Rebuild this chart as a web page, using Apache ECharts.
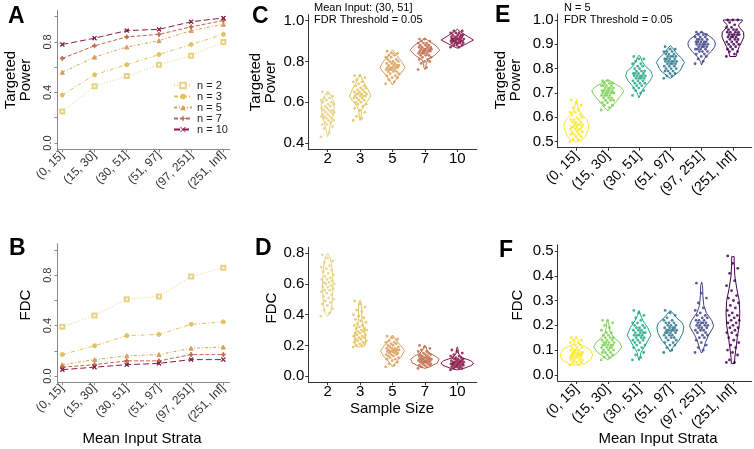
<!DOCTYPE html>
<html>
<head>
<meta charset="utf-8">
<script src="https://cdn.jsdelivr.net/npm/echarts@6/dist/echarts.min.js"></script>
<style>
  html, body { margin: 0; padding: 0; background: #fff; }
  #chart { width: 754px; height: 449px; }
</style>
</head>
<body>
<div id="chart"></div>
<script>
  // categories
  const strata = ['(0, 15]', '(15, 30]', '(30, 51]', '(51, 97]', '(97, 251]', '(251, Inf]'];
  const sampleSizes = ['2', '3', '5', '7', '10'];
  const nNames = ['n = 2', 'n = 3', 'n = 5', 'n = 7', 'n = 10'];

  // panel A: targeted power by strata, one line per n
  const powerN2 = [0.25, 0.45, 0.53, 0.62, 0.69, 0.80];
  const powerN3 = [0.38, 0.54, 0.62, 0.70, 0.78, 0.86];
  const powerN5 = [0.56, 0.68, 0.76, 0.81, 0.89, 0.94];
  const powerN7 = [0.67, 0.77, 0.84, 0.86, 0.92, 0.97];
  const powerN10 = [0.78, 0.83, 0.89, 0.90, 0.96, 0.99];

  // panel B: FDC by strata
  const fdcN2 = [0.39, 0.48, 0.61, 0.63, 0.79, 0.86];
  const fdcN3 = [0.17, 0.24, 0.32, 0.33, 0.41, 0.43];
  const fdcN5 = [0.09, 0.13, 0.16, 0.17, 0.22, 0.23];
  const fdcN7 = [0.07, 0.09, 0.12, 0.12, 0.17, 0.17];
  const fdcN10 = [0.05, 0.07, 0.09, 0.10, 0.13, 0.13];

  // panel C: targeted power per simulation, by sample size
  const powerBySize = [
    [0.43,0.45,0.47,0.48,0.49,0.49,0.50,0.50,0.51,0.51,0.52,0.52,0.52,0.53,0.53,0.53,0.54,0.54,0.54,0.55,0.55,0.55,0.56,0.56,0.56,0.57,0.57,0.58,0.58,0.59,0.59,0.60,0.60,0.61,0.61,0.62,0.62,0.63,0.64,0.65],
    [0.51,0.52,0.53,0.55,0.56,0.57,0.58,0.59,0.59,0.60,0.60,0.61,0.61,0.62,0.62,0.62,0.63,0.63,0.63,0.63,0.64,0.64,0.64,0.64,0.65,0.65,0.65,0.66,0.66,0.67,0.67,0.68,0.68,0.69,0.70,0.70,0.71,0.72,0.73,0.73],
    [0.69,0.70,0.71,0.72,0.72,0.73,0.73,0.74,0.74,0.75,0.75,0.75,0.76,0.76,0.76,0.76,0.77,0.77,0.77,0.77,0.77,0.78,0.78,0.78,0.78,0.79,0.79,0.79,0.80,0.80,0.80,0.81,0.81,0.82,0.82,0.83,0.83,0.84,0.84,0.85],
    [0.76,0.77,0.79,0.80,0.80,0.81,0.81,0.82,0.82,0.83,0.83,0.83,0.84,0.84,0.84,0.84,0.85,0.85,0.85,0.85,0.85,0.86,0.86,0.86,0.86,0.86,0.87,0.87,0.87,0.87,0.88,0.88,0.88,0.89,0.89,0.89,0.90,0.90,0.91,0.91],
    [0.87,0.87,0.88,0.88,0.88,0.89,0.89,0.89,0.89,0.89,0.90,0.90,0.90,0.90,0.90,0.90,0.90,0.91,0.91,0.91,0.91,0.91,0.91,0.91,0.92,0.92,0.92,0.92,0.92,0.93,0.93,0.93,0.93,0.94,0.94,0.94,0.95,0.95,0.89,0.91]
  ];
  // violin outlines: [value, half width] from bottom to top
  const powerBySizeViolin = [
    [[0.43,0],[0.45,0.03],[0.48,0.07],[0.50,0.11],[0.53,0.16],[0.56,0.19],[0.59,0.2],[0.61,0.17],[0.63,0.1],[0.65,0.02],[0.655,0]],
    [[0.51,0],[0.53,0.03],[0.56,0.04],[0.58,0.1],[0.61,0.25],[0.63,0.33],[0.66,0.25],[0.69,0.14],[0.72,0.05],[0.735,0]],
    [[0.685,0],[0.70,0.06],[0.73,0.2],[0.77,0.39],[0.80,0.28],[0.83,0.12],[0.85,0.03],[0.856,0]],
    [[0.76,0],[0.77,0.03],[0.79,0.04],[0.81,0.1],[0.83,0.3],[0.855,0.46],[0.88,0.32],[0.90,0.12],[0.914,0]],
    [[0.865,0],[0.88,0.2],[0.905,0.5],[0.93,0.25],[0.95,0.06],[0.958,0]]
  ];

  // panel D: FDC per simulation, by sample size
  const fdcBySize = [
    [0.39,0.41,0.43,0.44,0.46,0.47,0.48,0.49,0.50,0.51,0.52,0.53,0.54,0.55,0.56,0.56,0.57,0.58,0.58,0.59,0.60,0.60,0.61,0.61,0.62,0.63,0.63,0.64,0.65,0.66,0.67,0.68,0.69,0.70,0.71,0.72,0.74,0.75,0.77,0.79],
    [0.19,0.20,0.20,0.21,0.21,0.22,0.22,0.23,0.23,0.24,0.24,0.25,0.25,0.26,0.26,0.27,0.27,0.28,0.28,0.29,0.29,0.30,0.30,0.31,0.31,0.32,0.33,0.33,0.34,0.35,0.36,0.37,0.38,0.39,0.40,0.42,0.43,0.45,0.47,0.49],
    [0.06,0.07,0.08,0.09,0.10,0.11,0.11,0.12,0.12,0.13,0.13,0.14,0.14,0.14,0.15,0.15,0.15,0.16,0.16,0.16,0.16,0.17,0.17,0.17,0.17,0.18,0.18,0.18,0.19,0.19,0.20,0.20,0.21,0.21,0.22,0.22,0.23,0.24,0.25,0.26],
    [0.05,0.06,0.06,0.07,0.07,0.07,0.08,0.08,0.08,0.09,0.09,0.09,0.09,0.10,0.10,0.10,0.10,0.10,0.11,0.11,0.11,0.11,0.12,0.12,0.12,0.12,0.13,0.13,0.13,0.14,0.14,0.14,0.15,0.15,0.16,0.16,0.17,0.18,0.19,0.20],
    [0.04,0.05,0.05,0.05,0.06,0.06,0.06,0.06,0.07,0.07,0.07,0.07,0.07,0.08,0.08,0.08,0.08,0.08,0.08,0.09,0.09,0.09,0.09,0.09,0.10,0.10,0.10,0.10,0.11,0.11,0.11,0.12,0.12,0.12,0.13,0.13,0.14,0.15,0.16,0.17]
  ];
  const fdcBySizeViolin = [
    [[0.39,0],[0.41,0.08],[0.45,0.12],[0.52,0.15],[0.6,0.16],[0.68,0.14],[0.74,0.11],[0.78,0.06],[0.80,0]],
    [[0.19,0.08],[0.2,0.15],[0.24,0.17],[0.28,0.15],[0.32,0.1],[0.36,0.06],[0.40,0.05],[0.44,0.05],[0.48,0.03],[0.495,0]],
    [[0.06,0],[0.09,0.1],[0.13,0.28],[0.165,0.37],[0.2,0.25],[0.23,0.12],[0.26,0.03],[0.267,0]],
    [[0.05,0],[0.06,0.15],[0.085,0.38],[0.11,0.44],[0.13,0.32],[0.15,0.15],[0.17,0.06],[0.19,0.04],[0.20,0]],
    [[0.04,0],[0.05,0.2],[0.07,0.45],[0.085,0.5],[0.1,0.42],[0.12,0.15],[0.14,0.05],[0.16,0.03],[0.18,0.02],[0.19,0]]
  ];

  // panel E: targeted power per simulation, by strata (N = 5)
  const powerByStrata = [
    [0.50,0.51,0.51,0.52,0.52,0.53,0.53,0.53,0.54,0.54,0.54,0.55,0.55,0.55,0.55,0.56,0.56,0.56,0.56,0.57,0.57,0.57,0.57,0.58,0.58,0.58,0.59,0.59,0.59,0.60,0.60,0.61,0.61,0.62,0.62,0.63,0.64,0.65,0.66,0.67],
    [0.63,0.64,0.65,0.65,0.66,0.66,0.67,0.67,0.67,0.68,0.68,0.68,0.69,0.69,0.69,0.69,0.70,0.70,0.70,0.70,0.70,0.70,0.71,0.71,0.71,0.71,0.71,0.72,0.72,0.72,0.72,0.73,0.73,0.73,0.73,0.74,0.74,0.74,0.75,0.75],
    [0.69,0.70,0.71,0.71,0.72,0.72,0.73,0.73,0.74,0.74,0.74,0.75,0.75,0.75,0.76,0.76,0.76,0.76,0.77,0.77,0.77,0.77,0.77,0.78,0.78,0.78,0.78,0.79,0.79,0.79,0.80,0.80,0.81,0.81,0.82,0.82,0.83,0.84,0.84,0.85],
    [0.76,0.77,0.77,0.78,0.78,0.79,0.79,0.79,0.80,0.80,0.80,0.81,0.81,0.81,0.82,0.82,0.82,0.82,0.83,0.83,0.83,0.83,0.83,0.84,0.84,0.84,0.84,0.85,0.85,0.85,0.85,0.86,0.86,0.86,0.87,0.87,0.87,0.88,0.88,0.89],
    [0.82,0.83,0.84,0.85,0.85,0.86,0.86,0.87,0.87,0.87,0.88,0.88,0.88,0.88,0.89,0.89,0.89,0.89,0.90,0.90,0.90,0.90,0.90,0.91,0.91,0.91,0.91,0.91,0.92,0.92,0.92,0.92,0.93,0.93,0.93,0.94,0.94,0.94,0.95,0.95],
    [0.85,0.86,0.87,0.87,0.88,0.88,0.89,0.89,0.90,0.90,0.90,0.91,0.91,0.91,0.92,0.92,0.92,0.93,0.93,0.93,0.93,0.94,0.94,0.94,0.94,0.94,0.95,0.95,0.95,0.95,0.96,0.96,0.96,0.97,0.97,0.98,0.99,1.00,1.00,1.00]
  ];
  const powerByStrataViolin = [
    [[0.50,0],[0.505,0.15],[0.52,0.28],[0.55,0.38],[0.57,0.4],[0.59,0.33],[0.61,0.18],[0.63,0.08],[0.65,0.04],[0.675,0]],
    [[0.626,0],[0.64,0.1],[0.67,0.3],[0.70,0.48],[0.71,0.51],[0.725,0.4],[0.74,0.2],[0.75,0.07],[0.755,0]],
    [[0.68,0],[0.70,0.06],[0.72,0.15],[0.75,0.35],[0.77,0.43],[0.79,0.38],[0.81,0.2],[0.83,0.1],[0.85,0.04],[0.854,0]],
    [[0.76,0],[0.77,0.1],[0.79,0.3],[0.80,0.35],[0.815,0.4],[0.825,0.45],[0.84,0.38],[0.86,0.22],[0.88,0.1],[0.895,0]],
    [[0.815,0],[0.83,0.04],[0.85,0.14],[0.87,0.3],[0.89,0.42],[0.905,0.44],[0.92,0.38],[0.94,0.18],[0.95,0]],
    [[0.85,0.1],[0.87,0.14],[0.89,0.2],[0.91,0.28],[0.93,0.35],[0.95,0.34],[0.97,0.2],[0.98,0.18],[0.995,0.3],[1.0,0.3]]
  ];

  // panel F: FDC per simulation, by strata
  const fdcByStrata = [
    [0.04,0.04,0.05,0.05,0.05,0.06,0.06,0.06,0.06,0.07,0.07,0.07,0.07,0.07,0.08,0.08,0.08,0.08,0.08,0.08,0.09,0.09,0.09,0.09,0.09,0.10,0.10,0.10,0.10,0.11,0.11,0.11,0.12,0.12,0.13,0.13,0.14,0.14,0.15,0.15],
    [0.06,0.07,0.07,0.08,0.08,0.09,0.09,0.09,0.10,0.10,0.10,0.11,0.11,0.11,0.11,0.12,0.12,0.12,0.12,0.12,0.13,0.13,0.13,0.13,0.14,0.14,0.14,0.15,0.15,0.15,0.16,0.16,0.17,0.17,0.18,0.19,0.20,0.21,0.22,0.22],
    [0.06,0.07,0.08,0.09,0.10,0.11,0.11,0.12,0.12,0.13,0.13,0.14,0.14,0.14,0.15,0.15,0.15,0.16,0.16,0.16,0.16,0.17,0.17,0.17,0.17,0.18,0.18,0.18,0.19,0.19,0.19,0.20,0.20,0.21,0.21,0.22,0.23,0.24,0.25,0.26],
    [0.09,0.10,0.11,0.12,0.12,0.13,0.13,0.14,0.14,0.15,0.15,0.15,0.16,0.16,0.16,0.17,0.17,0.17,0.17,0.18,0.18,0.18,0.18,0.18,0.19,0.19,0.19,0.19,0.20,0.20,0.20,0.21,0.21,0.21,0.22,0.22,0.23,0.24,0.25,0.26],
    [0.09,0.10,0.11,0.12,0.13,0.14,0.15,0.15,0.16,0.16,0.17,0.17,0.18,0.18,0.18,0.19,0.19,0.19,0.20,0.20,0.20,0.20,0.21,0.21,0.21,0.21,0.22,0.22,0.22,0.23,0.23,0.24,0.24,0.25,0.26,0.27,0.29,0.31,0.33,0.37],
    [0.05,0.05,0.06,0.08,0.09,0.10,0.11,0.12,0.13,0.14,0.15,0.16,0.17,0.17,0.18,0.19,0.19,0.20,0.21,0.21,0.22,0.22,0.23,0.24,0.24,0.25,0.26,0.27,0.28,0.29,0.30,0.31,0.32,0.34,0.36,0.38,0.41,0.43,0.45,0.48]
  ];
  const fdcByStrataViolin = [
    [[0.038,0],[0.045,0.25],[0.06,0.45],[0.08,0.52],[0.10,0.45],[0.115,0.25],[0.125,0.08],[0.14,0.05],[0.146,0]],
    [[0.061,0],[0.07,0.1],[0.09,0.32],[0.112,0.45],[0.13,0.38],[0.15,0.2],[0.17,0.08],[0.19,0.05],[0.21,0.03],[0.22,0]],
    [[0.058,0],[0.07,0.03],[0.09,0.06],[0.12,0.2],[0.16,0.38],[0.19,0.28],[0.22,0.12],[0.24,0.05],[0.26,0]],
    [[0.092,0],[0.11,0.08],[0.14,0.28],[0.17,0.4],[0.193,0.43],[0.21,0.38],[0.23,0.2],[0.25,0.07],[0.26,0]],
    [[0.088,0],[0.1,0.05],[0.13,0.12],[0.16,0.22],[0.19,0.36],[0.2,0.38],[0.22,0.32],[0.25,0.15],[0.28,0.07],[0.32,0.04],[0.36,0.03],[0.375,0]],
    [[0.045,0.05],[0.07,0.06],[0.1,0.09],[0.15,0.14],[0.2,0.2],[0.25,0.22],[0.3,0.2],[0.35,0.12],[0.4,0.06],[0.45,0.04],[0.477,0.04]]
  ];

  const sizeColors = ['#E6D283', '#E5C25C', '#DA9E56', '#C06A4A', '#8A1A4B'];
  const viridis6 = ['#FDE725', '#7AD151', '#22A884', '#2A788E', '#414487', '#440154'];

  const FONT = '"Liberation Sans", Arial, sans-serif';
  const chart = echarts.init(document.getElementById('chart'), null, { renderer: 'canvas' });

  function xAxisOf(grid, min, max, labels, o) {
    const idx = labels.map((_, i) => i);
    return {
      type: 'value', gridIndex: grid, min: min, max: max,
      axisLine: { show: true, onZero: false, lineStyle: { color: o.line, width: 1 } },
      axisTick: { show: true, length: 3, customValues: idx, lineStyle: { color: o.line } },
      axisLabel: {
        customValues: idx, formatter: v => labels[Math.round(v)],
        rotate: o.rotate || 0, fontSize: o.size, color: o.color, fontFamily: FONT, margin: o.margin || 4
      },
      splitLine: { show: false }
    };
  }
  function yAxisOf(grid, min, max, ticks, labels, o) {
    return {
      type: 'value', gridIndex: grid, min: min, max: max,
      axisLine: { show: true, onZero: false, lineStyle: { color: o.line, width: 1 } },
      axisTick: { show: true, length: 3, customValues: ticks, lineStyle: { color: o.line } },
      axisLabel: {
        customValues: labels, formatter: v => v.toFixed(1),
        rotate: o.rotate || 0, fontSize: o.size, color: o.color, fontFamily: FONT, margin: o.margin || 4
      },
      splitLine: { show: false }
    };
  }

  const smallAx = { line: '#8a8a8a', color: '#333', size: 11 };
  const bigAx = { line: '#333', color: '#000', size: 15 };

  const lineDashes = [[1, 2], [4, 2, 1, 2], [3, 2, 1, 2], [4, 2], [6, 3]];
  const plusSym = 'path://M4,0H6V10H4Z M0,4H10V6H0Z';
  const crossSym = 'path://M1,0L5,4L9,0L10,1L6,5L10,9L9,10L5,6L1,10L0,9L4,5L0,1Z';
  const lineSymbols = ['emptyRect', 'circle', 'triangle', plusSym, crossSym];

  function lineSeries(grid, name, vals, k) {
    return {
      type: 'line', name: name, xAxisIndex: grid, yAxisIndex: grid,
      data: vals.map((v, i) => [i, v]),
      symbol: lineSymbols[k], symbolSize: 4,
      lineStyle: { color: sizeColors[k], width: 1, type: lineDashes[k] },
      itemStyle: { color: sizeColors[k], borderColor: sizeColors[k] },
      silent: true, z: 3
    };
  }

  function violinSeries(grid, profiles, colors) {
    return {
      type: 'custom', xAxisIndex: grid, yAxisIndex: grid, silent: true, z: 2,
      data: profiles.map((_, i) => [i, profiles[i][0][0]]),
      renderItem: function (params, api) {
        const g = api.value(0);
        const prof = profiles[g];
        const left = prof.map(p => api.coord([g - p[1], p[0]]));
        const right = prof.slice().reverse().map(p => api.coord([g + p[1], p[0]]));
        return {
          type: 'polygon', shape: { points: left.concat(right) },
          style: { fill: 'none', stroke: colors[g], lineWidth: 1 }
        };
      }
    };
  }

  function jitterSeries(grid, groups, colors) {
    const data = [];
    groups.forEach((vals, g) => {
      vals.forEach((v, i) => {
        const off = (((i * 0.618034) % 1) - 0.5) * 0.42;
        data.push({ value: [g + off, v], itemStyle: { color: colors[g] } });
      });
    });
    return {
      type: 'scatter', xAxisIndex: grid, yAxisIndex: grid, silent: true, z: 3,
      data: data, symbolSize: 2.8, itemStyle: { opacity: 0.85 }
    };
  }

  const series = [];
  [powerN2, powerN3, powerN5, powerN7, powerN10].forEach((v, k) => series.push(lineSeries(0, nNames[k], v, k)));
  [fdcN2, fdcN3, fdcN5, fdcN7, fdcN10].forEach((v, k) => series.push(lineSeries(1, nNames[k], v, k)));
  series.push(violinSeries(2, powerBySizeViolin, sizeColors));
  series.push(jitterSeries(2, powerBySize, sizeColors));
  series.push(violinSeries(3, fdcBySizeViolin, sizeColors));
  series.push(jitterSeries(3, fdcBySize, sizeColors));
  series.push(violinSeries(4, powerByStrataViolin, viridis6));
  series.push(jitterSeries(4, powerByStrata, viridis6));
  series.push(violinSeries(5, fdcByStrataViolin, viridis6));
  series.push(jitterSeries(5, fdcByStrata, viridis6));

  function letter(t, x, y) {
    return { type: 'text', x: x, y: y, style: { text: t, font: 'bold 23px ' + FONT, fill: '#000' } };
  }
  function vTitle(t, x, y) {
    return {
      type: 'text', x: x, y: y, rotation: Math.PI / 2,
      style: { text: t, font: '15px ' + FONT, fill: '#000', align: 'center', verticalAlign: 'middle', lineHeight: 15 }
    };
  }
  function hTitle(t, x, y) {
    return { type: 'text', x: x, y: y, style: { text: t, font: '15px ' + FONT, fill: '#000', align: 'center', verticalAlign: 'middle' } };
  }
  function note(t, x, y) {
    return { type: 'text', x: x, y: y, style: { text: t, font: '11px ' + FONT, fill: '#000' } };
  }

  const option = {
    animation: false,
    backgroundColor: '#fff',
    grid: [
      { left: 57.5, top: 10.4, width: 172.3, height: 138.9 },
      { left: 57.5, top: 243.7, width: 172.3, height: 138.6 },
      { left: 308.3, top: 14.6, width: 168.4, height: 134.4 },
      { left: 308.3, top: 247.2, width: 168.4, height: 135 },
      { left: 557.7, top: 13.9, width: 194, height: 133.8 },
      { left: 557.7, top: 244.8, width: 194, height: 136.2 }
    ],
    xAxis: [
      xAxisOf(0, -0.15, 5.2, strata, { line: '#8a8a8a', color: '#333', rotate: 45, size: 12 }),
      xAxisOf(1, -0.15, 5.2, strata, { line: '#8a8a8a', color: '#333', rotate: 45, size: 12 }),
      xAxisOf(2, -0.6, 4.6, sampleSizes, Object.assign({}, bigAx, { margin: 2 })),
      xAxisOf(3, -0.6, 4.6, sampleSizes, Object.assign({}, bigAx, { margin: 2 })),
      xAxisOf(4, -0.6, 5.6, strata, Object.assign({}, bigAx, { rotate: 45, size: 14, margin: 6 })),
      xAxisOf(5, -0.6, 5.6, strata, Object.assign({}, bigAx, { rotate: 45, size: 14, margin: 6 }))
    ],
    yAxis: [
      yAxisOf(0, -0.05, 1.05, [0, 0.2, 0.4, 0.6, 0.8, 1.0], [0, 0.4, 0.8], Object.assign({}, smallAx, { rotate: 90 })),
      yAxisOf(1, -0.05, 1.05, [0, 0.2, 0.4, 0.6, 0.8, 1.0], [0, 0.4, 0.8], Object.assign({}, smallAx, { rotate: 90 })),
      yAxisOf(2, 0.37, 1.03, [0.4, 0.6, 0.8, 1.0], [0.4, 0.6, 0.8, 1.0], bigAx),
      yAxisOf(3, -0.04, 0.84, [0, 0.2, 0.4, 0.6, 0.8], [0, 0.2, 0.4, 0.6, 0.8], bigAx),
      yAxisOf(4, 0.475, 1.025, [0.5, 0.6, 0.7, 0.8, 0.9, 1.0], [0.5, 0.6, 0.7, 0.8, 0.9, 1.0], bigAx),
      yAxisOf(5, -0.025, 0.525, [0, 0.1, 0.2, 0.3, 0.4, 0.5], [0, 0.1, 0.2, 0.3, 0.4, 0.5], bigAx)
    ],
    legend: {
      data: nNames, orient: 'vertical', left: 173, top: 80, padding: 0,
      itemWidth: 18, itemHeight: 7, itemGap: 0,
      textStyle: { fontSize: 11, lineHeight: 11, color: '#222', fontFamily: FONT },
      selectedMode: false
    },
    series: series,
    graphic: [
      letter('A', 8, 5), letter('B', 9, 237), letter('C', 252, 5),
      letter('D', 255, 237), letter('E', 495, 4), letter('F', 499, 239),
      vTitle('Targeted\nPower', 18, 80), vTitle('FDC', 26, 305),
      vTitle('Targeted\nPower', 263, 82), vTitle('FDC', 272, 308),
      vTitle('Targeted\nPower', 508, 80), vTitle('FDC', 518, 305),
      hTitle('Mean Input Strata', 142, 439), hTitle('Sample Size', 392, 409), hTitle('Mean Input Strata', 658, 439),
      note('Mean Input: (30, 51]', 314, 2), note('FDR Threshold = 0.05', 314, 14),
      note('N = 5', 564, 2), note('FDR Threshold = 0.05', 564, 14)
    ]
  };
  chart.setOption(option);
</script>
</body>
</html>
